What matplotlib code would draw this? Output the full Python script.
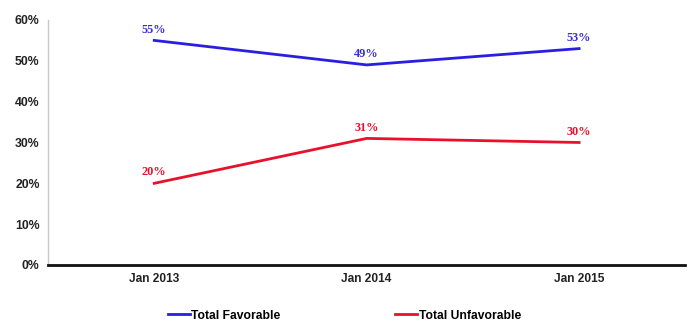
import numpy as np
import matplotlib.pyplot as plt

periods = ['Jan 2013', 'Jan 2014', 'Jan 2015']
favorable = [55, 49, 53]
unfavorable = [20, 31, 30]
yticks = [0, 10, 20, 30, 40, 50, 60]

blue = '#2a1ee0'
red = '#e8112d'

fig = plt.figure(figsize=(6.89, 3.23), dpi=100)
ax = fig.add_axes([0.0697, 0.1796, 0.925, 0.7585])

x = np.arange(len(periods))
l1, = ax.plot(x, favorable, color=blue, lw=2, label='Total Favorable')
l2, = ax.plot(x, unfavorable, color=red, lw=2, label='Total Unfavorable')

for xi, v in zip(x, favorable):
    ax.text(xi, v + 1.2, f'{v}%', color='#3a2ed0', ha='center', va='bottom',
            fontsize=8.8, fontweight='bold', family='Liberation Serif')
for xi, v in zip(x, unfavorable):
    ax.text(xi, v + 1.2, f'{v}%', color=red, ha='center', va='bottom',
            fontsize=8.8, fontweight='bold', family='Liberation Serif')

ax.set_xlim(-0.5, 2.5)
ax.set_ylim(0, 60)
ax.set_yticks(yticks)
ax.set_yticklabels([f'{t}%' for t in yticks], fontsize=8.8, fontweight='bold',
                   family='Liberation Sans', color='#222222')
ax.set_xticks(x)
ax.set_xticklabels(periods, fontsize=8.6, fontweight='bold',
                   family='Liberation Sans', color='#222222')
ax.tick_params(length=0, pad=6)
ax.tick_params(axis='x', pad=6)

for s in ['top', 'right']:
    ax.spines[s].set_visible(False)
ax.spines['left'].set_color('#c8c8c8')
ax.spines['left'].set_linewidth(1)
ax.spines['bottom'].set_color('#111111')
ax.spines['bottom'].set_linewidth(2)

fig.legend(handles=[l1, l2], loc='lower center', bbox_to_anchor=(0.5, -0.018),
           ncol=2, frameon=False, columnspacing=9.5, handlelength=1.8,
           handletextpad=0.15, borderpad=0.1,
           prop={'family': 'Liberation Sans', 'weight': 'bold', 'size': 8.7})

fig.savefig('out.png', dpi=100)
